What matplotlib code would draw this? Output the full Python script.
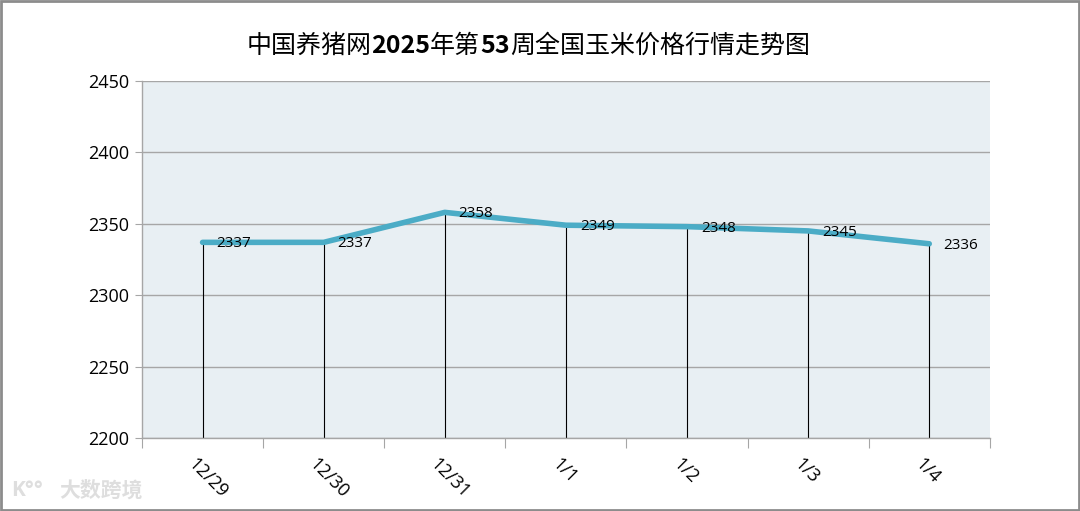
import matplotlib.pyplot as plt
from matplotlib.patches import Rectangle
from matplotlib.transforms import ScaledTranslation

DATES = ["12/29", "12/30", "12/31", "1/1", "1/2", "1/3", "1/4"]
PRICES = [2337, 2337, 2358, 2349, 2348, 2345, 2336]
Y_TICKS = [2200, 2250, 2300, 2350, 2400, 2450]
TITLE_PARTS = [
    ("中国养猪网", "normal"),
    ("2025", "bold"),
    ("年第", "normal"),
    ("53", "bold"),
    ("周全国玉米价格行情走势图", "normal"),
]

LINE_COLOR = "#4BACC6"
PLOT_BG = "#E8EFF3"
GRID_COLOR = "#A6A6A6"
CJK = ["Noto Sans CJK SC", "DejaVu Sans"]
LATIN = ["Open Sans", "DejaVu Sans"]

fig = plt.figure(figsize=(10.8, 5.11), dpi=100)
ax = fig.add_axes([0.1315, 0.1429, 0.785, 0.6986])
ax.set_facecolor(PLOT_BG)

x = list(range(len(DATES)))
ax.vlines(x, Y_TICKS[0], PRICES, color="black", lw=0.8, zorder=2)
ax.plot(x, PRICES, color=LINE_COLOR, lw=4, solid_capstyle="round", zorder=3)
for xi, val in zip(x, PRICES):
    ax.annotate(str(val), (xi, val), xytext=(10, -1), textcoords="offset points",
                ha="left", va="center", fontsize=11, family=LATIN, zorder=4)

ax.set_xlim(-0.5, len(DATES) - 0.5)
ax.set_ylim(Y_TICKS[0], Y_TICKS[-1])
ax.set_yticks(Y_TICKS)
ax.set_yticklabels([str(v) for v in Y_TICKS], family=LATIN, fontsize=13)
ax.grid(axis="y", color=GRID_COLOR, lw=1, zorder=1)
ax.set_axisbelow(True)

# boundary ticks (major, unlabeled) and category labels (minor, no tick mark)
ax.set_xticks([i - 0.5 for i in range(len(DATES) + 1)])
ax.set_xticklabels([])
ax.set_xticks(x, minor=True)
ax.set_xticklabels(DATES, minor=True, rotation=-45, ha="left", va="top",
                   rotation_mode="anchor", family=LATIN, fontsize=13)
ax.tick_params(axis="x", which="major", length=7, color=GRID_COLOR)
ax.tick_params(axis="x", which="minor", length=0, pad=12)
ax.tick_params(axis="y", length=5, color=GRID_COLOR, pad=4)

for side in ["top", "right"]:
    ax.spines[side].set_visible(False)
for side in ["left", "bottom"]:
    ax.spines[side].set_color(GRID_COLOR)
    ax.spines[side].set_linewidth(1)

# shift rotated labels a bit left so they hang from the category centre
for lab in ax.get_xticklabels(minor=True):
    lab.set_transform(lab.get_transform() + ScaledTranslation(-0.05, 0, fig.dpi_scale_trans))

# title: CJK regular with bold digits, laid out piece by piece
fig.canvas.draw()
renderer = fig.canvas.get_renderer()
texts = []
for part, weight in TITLE_PARTS:
    t = fig.text(0, 0.91, part, fontsize=18, weight=weight, family=CJK,
                 ha="left", va="center")
    texts.append(t)
widths = [t.get_window_extent(renderer).width for t in texts]
total = sum(widths)
start = (fig.bbox.width - total) / 2 - 12
for t, w in zip(texts, widths):
    t.set_x(start / fig.bbox.width)
    start += w

# watermark
fig.text(0.055, 0.04, "大数跨境", fontsize=15, weight="bold", family=CJK,
         color="#DEDEDE", ha="left", va="center")
fig.text(0.01, 0.04, "K°°", fontsize=15, weight="bold", family=LATIN,
         color="#DEDEDE", ha="left", va="center")

fig.patches.append(Rectangle((0.001, 0.002), 0.998, 0.996, transform=fig.transFigure,
                             fill=False, edgecolor="#8C8C8C", lw=2))

fig.savefig("out.png", dpi=100)
